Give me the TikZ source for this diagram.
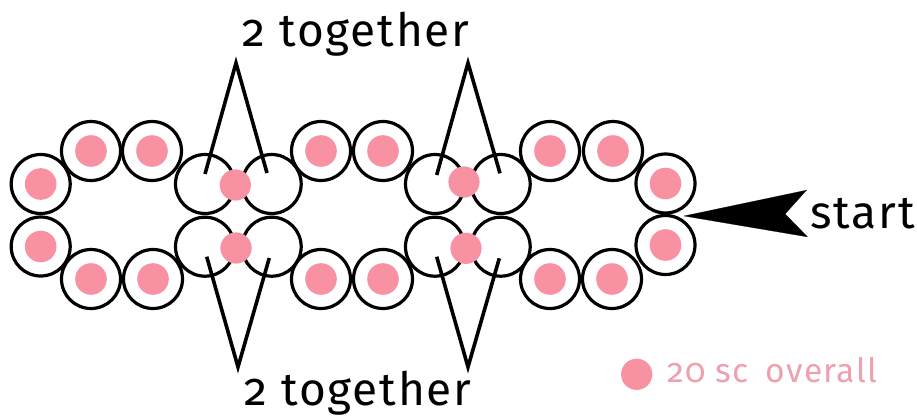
\documentclass[tikz,border=0pt]{standalone}
\usepackage{fontspec}
\setmainfont[Numbers=OldStyle]{Fira Sans}
\usetikzlibrary{arrows.meta}
\definecolor{scpink}{RGB}{248,146,163}
\definecolor{notepink}{RGB}{238,160,174}
\begin{document}
\begin{tikzpicture}[
                x = 0.5pt, y = -0.5pt,
                stitch/.style = {circle, draw, line width = 1.6pt, minimum size = 29.5pt, inner sep = 0pt,
                    path picture = {\fill[scpink] (path picture bounding box.center) circle (7.9pt);}},
                joined/.style = {circle, draw, line width = 1.6pt, minimum size = 29.5pt, inner sep = 0pt},
                sc/.style = {circle, fill = scpink, minimum size = 15.6pt, inner sep = 0pt},
                leg/.style = {line width = 1.8pt},
                label/.style = {font = \fontsize{23}{23}\selectfont\addfontfeature{LetterSpace = 4}, inner sep = 0pt}
                ]
                \useasboundingbox (0,0) rectangle (917,418);
                % first round of the chain
                \node[stitch] (l1) at (40.7,184) {};
                \node[stitch] (l2) at (40.7,246.5) {};
                \node[stitch] (t1) at (91,151) {};
    	        \node[stitch] (t2) at (152,151) {};
    	        \node[stitch] (b1) at (91,279) {};
    	        \node[stitch] (b2) at (153,279) {};
    	        \node[joined] (ja1) at (205,184) {};
    	        \node[joined] (jb1) at (271.7,184) {};
    	        \node[joined] (jc1) at (205,246.7) {};
    	        \node[joined] (jd1) at (271.7,246.7) {};
    	        \node[sc] (su1) at (235.3,185) {};
    	        \node[sc] (sl1) at (236,248) {};
    	        % middle
    	        \node[stitch] (t3) at (321,151) {};
    	        \node[stitch] (t4) at (383,151) {};
    	        \node[stitch] (b3) at (321,279) {};
    	        \node[stitch] (b4) at (383,279) {};
    	        \node[joined] (ja2) at (435,184) {};
    	        \node[joined] (jb2) at (500.7,184) {};
    	        \node[joined] (jc2) at (435,246.7) {};
    	        \node[joined] (jd2) at (500.7,246.7) {};
    	        \node[sc] (su2) at (464,182) {};
    	        \node[sc] (sl2) at (466,248.3) {};
    	        % end
    	        \node[stitch] (t5) at (550,151) {};
    	        \node[stitch] (t6) at (613,151) {};
    	        \node[stitch] (b5) at (550,279) {};
    	        \node[stitch] (b6) at (612,279) {};
    	        \node[stitch] (r1) at (665.5,183.5) {};
    	        \node[stitch] (r2) at (665.5,245) {};
    	        % labels
    	        \node[label, anchor = base] (tog1) at (356,46.7) {2 together};
    	        \node[label, anchor = base] (tog2) at (358,405.7) {2 together};
    	        \node[label, anchor = base west] (start) at (810,228.3) {start};
    	        \coordinate (ua1) at (236,63);
    	        \coordinate (ua2) at (468,63);
    	        \coordinate (la1) at (238,367);
    	        \coordinate (la2) at (468,367);
    	        \draw[leg] (205,174) -- (ua1) -- (267,173);
    	        \draw[leg] (436.7,175) -- (ua2) -- (500,173.3);
    	        \draw[leg] (206.7,256.7) -- (la1) -- (269.3,258);
    	        \draw[leg] (436.7,256.7) -- (la2) -- (499.3,258.3);
    	        \coordinate (tip) at (683.3,216);
    	        \draw[line width = 0.1pt, shorten <= 13pt, -{Stealth[length = 62pt, width = 23.5pt, inset = 11pt]}]
    	            (start.west) -- (tip);
    	        % legend
    	        \node[sc] (key) at (636.7,374.3) {};
    	        \node[anchor = base west, inner sep = 0pt, text = notepink,
    	            font = \fontsize{16.8}{16.8}\selectfont\addfontfeature{LetterSpace = 4}] (note) at (666.7,382.7) {20 sc\hspace{0.5em}overall};
\end{tikzpicture}
\end{document}
